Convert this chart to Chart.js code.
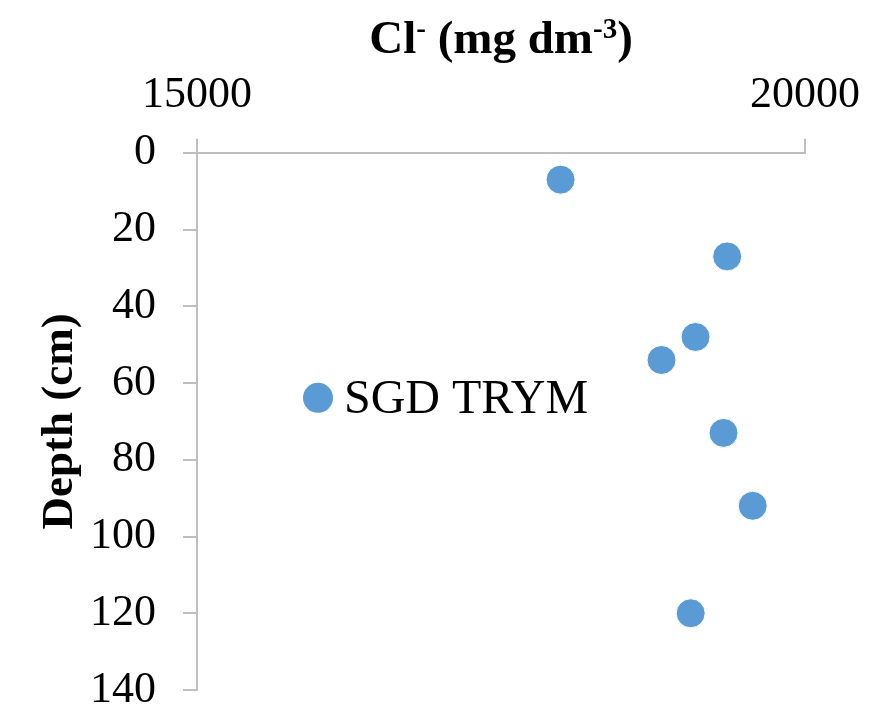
<!DOCTYPE html>
<html>
<head>
<meta charset="utf-8">
<script src="https://cdn.jsdelivr.net/npm/chart.js@4.4.1/dist/chart.umd.min.js"></script>
<style>
  html, body { margin: 0; padding: 0; background: #fff; }
  #wrap { width: 873px; height: 715px; }
</style>
</head>
<body>
<div id="wrap"><canvas id="chart_cl"></canvas></div>
<script>
// chloride concentration (mg dm-3) vs depth (cm)
const seriesName = "SGD TRYM";
const chloride = [17990, 19360, 19100, 18820, 19330, 19570, 19060];
const depth = [7, 27, 48, 54, 73, 92, 120];
const xTicks = [15000, 20000];

const blue = 'rgb(91, 155, 213)';
const axisGrey = '#bfbfbf';
const serif = "'Liberation Serif', 'Times New Roman', serif";

// axis title with real superscripts: Cl- (mg dm-3)
const titleParts = [
    { text: 'Cl', sup: false },
    { text: '-', sup: true },
    { text: ' (mg dm', sup: false },
    { text: '-3', sup: true },
    { text: ')', sup: false }
];

const richTitle = {
    id: 'richTitle',
    afterDraw(chart) {
        const ctx = chart.ctx;
        const area = chart.chartArea;
        const mainFont = 'bold 47px ' + serif;
        const supFont = 'bold 29px ' + serif;
        ctx.save();
        ctx.fillStyle = '#000';
        ctx.textBaseline = 'alphabetic';
        ctx.textAlign = 'left';
        let total = 0;
        titleParts.forEach(p => {
            ctx.font = p.sup ? supFont : mainFont;
            total += ctx.measureText(p.text).width;
        });
        let x = (area.left + area.right) / 2 - total / 2;
        const base = 53;
        titleParts.forEach(p => {
            ctx.font = p.sup ? supFont : mainFont;
            ctx.fillText(p.text, x, p.sup ? base - 15 : base);
            x += ctx.measureText(p.text).width;
        });
        ctx.restore();
    }
};

// legend sits inside the plot area like the original
const innerLegend = {
    id: 'innerLegend',
    afterDraw(chart) {
        const ctx = chart.ctx;
        const area = chart.chartArea;
        const ds = chart.data.datasets[0];
        const x = area.left + 121;
        const y = area.top + 245;
        ctx.save();
        ctx.fillStyle = ds.backgroundColor;
        ctx.beginPath();
        ctx.arc(x, y, 15, 0, Math.PI * 2);
        ctx.fill();
        ctx.fillStyle = '#000';
        ctx.font = '48px ' + serif;
        ctx.textBaseline = 'alphabetic';
        ctx.textAlign = 'left';
        ctx.fillText(ds.label, x + 26, y + 15);
        ctx.restore();
    }
};

const points = chloride.map((c, i) => ({ x: c, y: depth[i] }));

const ctx = document.getElementById('chart_cl').getContext('2d');
const chart = new Chart(ctx, {
    type: 'scatter',
    data: {
        datasets: [{
            label: seriesName,
            data: points,
            backgroundColor: blue,
            borderColor: '#ffffff',
            borderWidth: 1,
            pointRadius: 14.5,
            pointHoverRadius: 14.5
        }]
    },
    options: {
        responsive: true,
        maintainAspectRatio: false,
        animation: false,
        layout: { padding: { left: 0, right: 68, top: 52, bottom: 0 } },
        plugins: {
            legend: { display: false },
            tooltip: { enabled: false }
        },
        scales: {
            x: {
                type: 'linear',
                position: 'top',
                min: 15000,
                max: 20000,
                afterBuildTicks: (axis) => { axis.ticks = xTicks.map(v => ({ value: v })); },
                afterFit: (axis) => {
                    axis.paddingLeft = 0;
                    axis.paddingRight = 0;
                },
                ticks: {
                    autoSkip: false,
                    maxRotation: 0,
                    color: '#000',
                    padding: 17,
                    font: { family: serif, size: 44 },
                    callback: (v) => String(v)
                },
                grid: { drawOnChartArea: false, drawTicks: true, tickLength: 14, color: axisGrey, lineWidth: 2 },
                border: { color: axisGrey, width: 2 }
            },
            y: {
                type: 'linear',
                reverse: true,
                min: 0,
                max: 140,
                afterFit: (axis) => {
                    axis.width = 197;
                    axis.paddingTop = 0;
                    axis.paddingBottom = 25;
                },
                ticks: {
                    stepSize: 20,
                    color: '#000',
                    padding: 27,
                    font: { family: serif, size: 44 }
                },
                grid: { drawOnChartArea: false, drawTicks: true, tickLength: 14, color: axisGrey, lineWidth: 2 },
                border: { color: axisGrey, width: 2 },
                title: {
                    display: true,
                    text: 'Depth (cm)',
                    color: '#000',
                    font: { family: serif, size: 45, weight: 'bold' },
                    padding: { top: 33, bottom: 0 }
                }
            }
        }
    },
    plugins: [richTitle, innerLegend]
});
</script>
</body>
</html>
